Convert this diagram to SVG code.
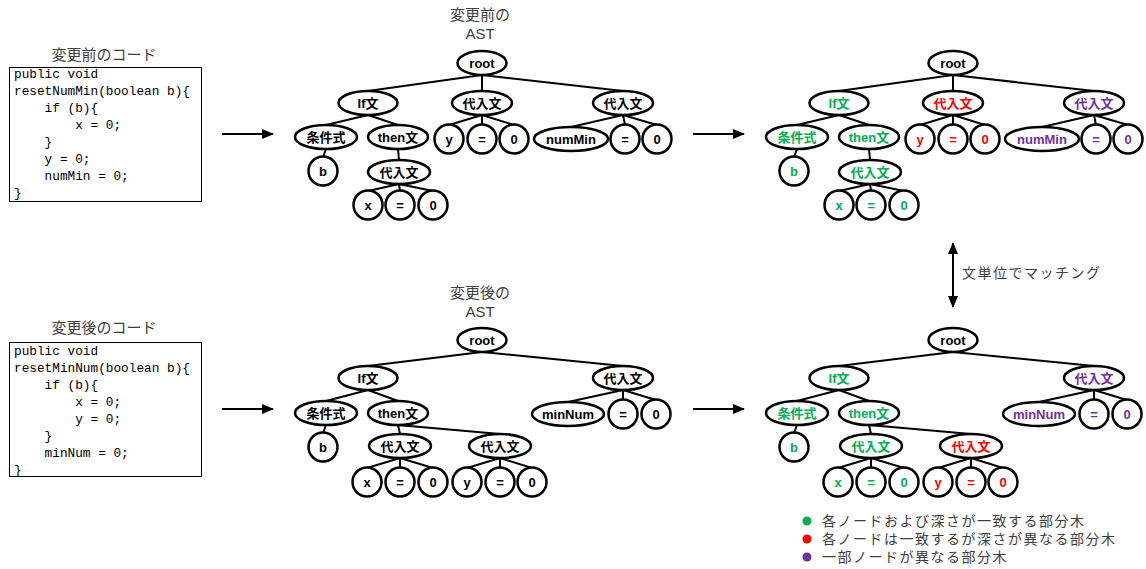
<svg xmlns="http://www.w3.org/2000/svg" width="1146" height="569" viewBox="0 0 1146 569">
<defs>
<marker id="ah" viewBox="0 0 12 10" refX="11" refY="5" markerWidth="12" markerHeight="10" markerUnits="userSpaceOnUse" orient="auto-start-reverse"><path d="M0,0 L12,5 L0,10 z" fill="#000"/></marker>
</defs>
<style>
.n ellipse{fill:#fff;stroke:#000;stroke-width:2.5}
.n text{font-family:"Liberation Sans","Noto Sans CJK JP",sans-serif;font-weight:bold;font-size:13px;text-anchor:middle;fill:#000}
.g text{fill:#00B050}
.r text{fill:#FF0000}
.p text{fill:#7030A0}
.e line{stroke:#000;stroke-width:2}
.ttl{font-family:"Liberation Sans","Noto Sans CJK JP",sans-serif;font-size:15px;fill:#404040;text-anchor:middle}
.code{font-family:"Liberation Mono",monospace;font-size:12.75px;fill:#000;white-space:pre}
.box{fill:#fff;stroke:#000;stroke-width:1}
.arr{stroke:#000;stroke-width:2.5;fill:none}
.lg{font-family:"Noto Sans CJK JP",sans-serif;font-size:14px;letter-spacing:1.5px;fill:#404040}
</style>
<rect width="1146" height="569" fill="#fff"/>

<!-- code boxes -->
<g id="code-before">
<text class="ttl" x="104" y="60">変更前のコード</text>
<rect class="box" x="9.5" y="67.5" width="192" height="134"/>
<text class="code" x="14" y="78">public void</text>
<text class="code" x="14" y="95">resetNumMin(boolean b){</text>
<text class="code" x="14" y="112">    if (b){</text>
<text class="code" x="14" y="129">        x = 0;</text>
<text class="code" x="14" y="146">    }</text>
<text class="code" x="14" y="163">    y = 0;</text>
<text class="code" x="14" y="180">    numMin = 0;</text>
<text class="code" x="14" y="197">}</text>
</g>
<g id="code-after">
<text class="ttl" x="104" y="333">変更後のコード</text>
<rect class="box" x="9.5" y="342.5" width="192" height="134"/>
<text class="code" x="14" y="355">public void</text>
<text class="code" x="14" y="372">resetMinNum(boolean b){</text>
<text class="code" x="14" y="389">    if (b){</text>
<text class="code" x="14" y="406">        x = 0;</text>
<text class="code" x="14" y="423">        y = 0;</text>
<text class="code" x="14" y="440">    }</text>
<text class="code" x="14" y="457">    minNum = 0;</text>
<text class="code" x="14" y="474">}</text>
</g>

<g id="titles">
<text class="ttl" x="480" y="20">変更前の</text>
<text class="ttl" x="480" y="39">AST</text>
<text class="ttl" x="480" y="298">変更後の</text>
<text class="ttl" x="480" y="317">AST</text>
</g>

<!-- connectors -->
<g id="connectors" class="e">
<!-- top-left -->
<line x1="482" y1="75" x2="368" y2="91"/><line x1="482" y1="75" x2="482" y2="91"/><line x1="482" y1="75" x2="623" y2="91"/>
<line x1="368" y1="115" x2="326" y2="125"/><line x1="368" y1="115" x2="398" y2="125"/>
<line x1="326" y1="149" x2="323" y2="157"/>
<line x1="398" y1="149" x2="399" y2="160"/>
<line x1="399" y1="184" x2="368" y2="191"/><line x1="399" y1="184" x2="400" y2="191"/><line x1="399" y1="184" x2="433" y2="191"/>
<line x1="482" y1="115" x2="449" y2="125"/><line x1="482" y1="115" x2="482" y2="125"/><line x1="482" y1="115" x2="514" y2="125"/>
<line x1="623" y1="115" x2="571" y2="127"/><line x1="623" y1="115" x2="625" y2="125"/><line x1="623" y1="115" x2="657" y2="125"/>
<!-- top-right -->
<line x1="953" y1="75" x2="839" y2="91"/><line x1="953" y1="75" x2="953" y2="91"/><line x1="953" y1="75" x2="1094" y2="91"/>
<line x1="839" y1="115" x2="797" y2="125"/><line x1="839" y1="115" x2="869" y2="125"/>
<line x1="797" y1="149" x2="794" y2="157"/>
<line x1="869" y1="149" x2="870" y2="160"/>
<line x1="870" y1="184" x2="839" y2="191"/><line x1="870" y1="184" x2="871" y2="191"/><line x1="870" y1="184" x2="904" y2="191"/>
<line x1="953" y1="115" x2="920" y2="125"/><line x1="953" y1="115" x2="953" y2="125"/><line x1="953" y1="115" x2="985" y2="125"/>
<line x1="1094" y1="115" x2="1042" y2="127"/><line x1="1094" y1="115" x2="1096" y2="125"/><line x1="1094" y1="115" x2="1128" y2="125"/>
<!-- bottom-left -->
<line x1="482" y1="352" x2="368" y2="366"/><line x1="482" y1="352" x2="623" y2="366"/>
<line x1="368" y1="390" x2="326" y2="401"/><line x1="368" y1="390" x2="398" y2="401"/>
<line x1="326" y1="425" x2="323" y2="433"/>
<line x1="398" y1="425" x2="400" y2="434"/><line x1="398" y1="425" x2="500" y2="434"/>
<line x1="400" y1="458" x2="367" y2="468"/><line x1="400" y1="458" x2="400" y2="468"/><line x1="400" y1="458" x2="433" y2="468"/>
<line x1="500" y1="458" x2="467" y2="468"/><line x1="500" y1="458" x2="500" y2="468"/><line x1="500" y1="458" x2="532" y2="468"/>
<line x1="623" y1="390" x2="568" y2="402"/><line x1="623" y1="390" x2="623" y2="400"/><line x1="623" y1="390" x2="656" y2="400"/>
<!-- bottom-right -->
<line x1="953" y1="352" x2="839" y2="366"/><line x1="953" y1="352" x2="1094" y2="366"/>
<line x1="839" y1="390" x2="797" y2="401"/><line x1="839" y1="390" x2="869" y2="401"/>
<line x1="797" y1="425" x2="794" y2="433"/>
<line x1="869" y1="425" x2="871" y2="434"/><line x1="869" y1="425" x2="971" y2="434"/>
<line x1="871" y1="458" x2="838" y2="468"/><line x1="871" y1="458" x2="871" y2="468"/><line x1="871" y1="458" x2="904" y2="468"/>
<line x1="971" y1="458" x2="938" y2="468"/><line x1="971" y1="458" x2="971" y2="468"/><line x1="971" y1="458" x2="1003" y2="468"/>
<line x1="1094" y1="390" x2="1039" y2="402"/><line x1="1094" y1="390" x2="1094" y2="400"/><line x1="1094" y1="390" x2="1127" y2="400"/>
<!-- arrows -->
<line class="arr" x1="222" y1="134" x2="273" y2="134" marker-end="url(#ah)"/>
<line class="arr" x1="222" y1="409" x2="273" y2="409" marker-end="url(#ah)"/>
<line class="arr" x1="693" y1="134" x2="744" y2="134" marker-end="url(#ah)"/>
<line class="arr" x1="693" y1="409" x2="744" y2="409" marker-end="url(#ah)"/>
<line class="arr" x1="953" y1="243" x2="953" y2="307" marker-start="url(#ah)" marker-end="url(#ah)"/>
</g>
<text class="lg" x="962" y="278">文単位でマッチング</text>

<!-- top-left tree -->
<g id="tl-root" class="n"><ellipse cx="482" cy="63" rx="24.5" ry="12"/><text x="482" y="67.5">root</text></g>
<g id="tl-if" class="n"><ellipse cx="368" cy="103" rx="29.5" ry="12"/><text x="368" y="107.5">If文</text></g>
<g id="tl-asA" class="n"><ellipse cx="482" cy="103" rx="30" ry="12"/><text x="482" y="107.5">代入文</text></g>
<g id="tl-asB" class="n"><ellipse cx="623" cy="103" rx="30" ry="12"/><text x="623" y="107.5">代入文</text></g>
<g id="tl-cond" class="n"><ellipse cx="326" cy="137" rx="31" ry="12"/><text x="326" y="141.5">条件式</text></g>
<g id="tl-then" class="n"><ellipse cx="398" cy="137" rx="30" ry="12"/><text x="398" y="141.5">then文</text></g>
<g id="tl-b" class="n"><ellipse cx="323" cy="171" rx="14.5" ry="14.5"/><text x="323" y="175.5">b</text></g>
<g id="tl-asC" class="n"><ellipse cx="399" cy="172" rx="31" ry="12"/><text x="399" y="176.5">代入文</text></g>
<g id="tl-x" class="n"><ellipse cx="368" cy="205" rx="14.5" ry="14.5"/><text x="368" y="209.5">x</text></g>
<g id="tl-xeq" class="n"><ellipse cx="400" cy="205" rx="14.5" ry="14.5"/><text x="400" y="209.5">=</text></g>
<g id="tl-x0" class="n"><ellipse cx="433" cy="205" rx="14.5" ry="14.5"/><text x="433" y="209.5">0</text></g>
<g id="tl-y" class="n"><ellipse cx="449" cy="139" rx="14.5" ry="14.5"/><text x="449" y="143.5">y</text></g>
<g id="tl-yeq" class="n"><ellipse cx="482" cy="139" rx="14.5" ry="14.5"/><text x="482" y="143.5">=</text></g>
<g id="tl-y0" class="n"><ellipse cx="514" cy="139" rx="14.5" ry="14.5"/><text x="514" y="143.5">0</text></g>
<g id="tl-numMin" class="n"><ellipse cx="571" cy="139" rx="37" ry="12"/><text x="571" y="143.5">numMin</text></g>
<g id="tl-neq" class="n"><ellipse cx="625" cy="139" rx="14.5" ry="14.5"/><text x="625" y="143.5">=</text></g>
<g id="tl-n0" class="n"><ellipse cx="657" cy="139" rx="14.5" ry="14.5"/><text x="657" y="143.5">0</text></g>

<!-- top-right tree -->
<g id="tr-root" class="n"><ellipse cx="953" cy="63" rx="24.5" ry="12"/><text x="953" y="67.5">root</text></g>
<g id="tr-if" class="n g"><ellipse cx="839" cy="103" rx="29.5" ry="12"/><text x="839" y="107.5">If文</text></g>
<g id="tr-asA" class="n r"><ellipse cx="953" cy="103" rx="30" ry="12"/><text x="953" y="107.5">代入文</text></g>
<g id="tr-asB" class="n p"><ellipse cx="1094" cy="103" rx="30" ry="12"/><text x="1094" y="107.5">代入文</text></g>
<g id="tr-cond" class="n g"><ellipse cx="797" cy="137" rx="31" ry="12"/><text x="797" y="141.5">条件式</text></g>
<g id="tr-then" class="n g"><ellipse cx="869" cy="137" rx="30" ry="12"/><text x="869" y="141.5">then文</text></g>
<g id="tr-b" class="n g"><ellipse cx="794" cy="171" rx="14.5" ry="14.5"/><text x="794" y="175.5">b</text></g>
<g id="tr-asC" class="n g"><ellipse cx="870" cy="172" rx="31" ry="12"/><text x="870" y="176.5">代入文</text></g>
<g id="tr-x" class="n g"><ellipse cx="839" cy="205" rx="14.5" ry="14.5"/><text x="839" y="209.5">x</text></g>
<g id="tr-xeq" class="n g"><ellipse cx="871" cy="205" rx="14.5" ry="14.5"/><text x="871" y="209.5">=</text></g>
<g id="tr-x0" class="n g"><ellipse cx="904" cy="205" rx="14.5" ry="14.5"/><text x="904" y="209.5">0</text></g>
<g id="tr-y" class="n r"><ellipse cx="920" cy="139" rx="14.5" ry="14.5"/><text x="920" y="143.5">y</text></g>
<g id="tr-yeq" class="n r"><ellipse cx="953" cy="139" rx="14.5" ry="14.5"/><text x="953" y="143.5">=</text></g>
<g id="tr-y0" class="n r"><ellipse cx="985" cy="139" rx="14.5" ry="14.5"/><text x="985" y="143.5">0</text></g>
<g id="tr-numMin" class="n p"><ellipse cx="1042" cy="139" rx="37" ry="12"/><text x="1042" y="143.5">numMin</text></g>
<g id="tr-neq" class="n p"><ellipse cx="1096" cy="139" rx="14.5" ry="14.5"/><text x="1096" y="143.5">=</text></g>
<g id="tr-n0" class="n p"><ellipse cx="1128" cy="139" rx="14.5" ry="14.5"/><text x="1128" y="143.5">0</text></g>

<!-- bottom-left tree -->
<g id="bl-root" class="n"><ellipse cx="482" cy="340" rx="24.5" ry="12"/><text x="482" y="344.5">root</text></g>
<g id="bl-if" class="n"><ellipse cx="368" cy="378" rx="29.5" ry="12"/><text x="368" y="382.5">If文</text></g>
<g id="bl-asR" class="n"><ellipse cx="623" cy="378" rx="30" ry="12"/><text x="623" y="382.5">代入文</text></g>
<g id="bl-cond" class="n"><ellipse cx="326" cy="413" rx="31" ry="12"/><text x="326" y="417.5">条件式</text></g>
<g id="bl-then" class="n"><ellipse cx="398" cy="413" rx="30" ry="12"/><text x="398" y="417.5">then文</text></g>
<g id="bl-minNum" class="n"><ellipse cx="568" cy="414" rx="36" ry="12"/><text x="568" y="418.5">minNum</text></g>
<g id="bl-meq" class="n"><ellipse cx="623" cy="414" rx="14.5" ry="14.5"/><text x="623" y="418.5">=</text></g>
<g id="bl-m0" class="n"><ellipse cx="656" cy="414" rx="14.5" ry="14.5"/><text x="656" y="418.5">0</text></g>
<g id="bl-b" class="n"><ellipse cx="323" cy="447" rx="14.5" ry="14.5"/><text x="323" y="451.5">b</text></g>
<g id="bl-asX" class="n"><ellipse cx="400" cy="446" rx="31" ry="12"/><text x="400" y="450.5">代入文</text></g>
<g id="bl-asY" class="n"><ellipse cx="500" cy="446" rx="31" ry="12"/><text x="500" y="450.5">代入文</text></g>
<g id="bl-x" class="n"><ellipse cx="367" cy="482" rx="14.5" ry="14.5"/><text x="367" y="486.5">x</text></g>
<g id="bl-xeq" class="n"><ellipse cx="400" cy="482" rx="14.5" ry="14.5"/><text x="400" y="486.5">=</text></g>
<g id="bl-x0" class="n"><ellipse cx="433" cy="482" rx="14.5" ry="14.5"/><text x="433" y="486.5">0</text></g>
<g id="bl-y" class="n"><ellipse cx="467" cy="482" rx="14.5" ry="14.5"/><text x="467" y="486.5">y</text></g>
<g id="bl-yeq" class="n"><ellipse cx="500" cy="482" rx="14.5" ry="14.5"/><text x="500" y="486.5">=</text></g>
<g id="bl-y0" class="n"><ellipse cx="532" cy="482" rx="14.5" ry="14.5"/><text x="532" y="486.5">0</text></g>

<!-- bottom-right tree -->
<g id="br-root" class="n"><ellipse cx="953" cy="340" rx="24.5" ry="12"/><text x="953" y="344.5">root</text></g>
<g id="br-if" class="n g"><ellipse cx="839" cy="378" rx="29.5" ry="12"/><text x="839" y="382.5">If文</text></g>
<g id="br-asR" class="n p"><ellipse cx="1094" cy="378" rx="30" ry="12"/><text x="1094" y="382.5">代入文</text></g>
<g id="br-cond" class="n g"><ellipse cx="797" cy="413" rx="31" ry="12"/><text x="797" y="417.5">条件式</text></g>
<g id="br-then" class="n g"><ellipse cx="869" cy="413" rx="30" ry="12"/><text x="869" y="417.5">then文</text></g>
<g id="br-minNum" class="n p"><ellipse cx="1039" cy="414" rx="36" ry="12"/><text x="1039" y="418.5">minNum</text></g>
<g id="br-meq" class="n p"><ellipse cx="1094" cy="414" rx="14.5" ry="14.5"/><text x="1094" y="418.5">=</text></g>
<g id="br-m0" class="n p"><ellipse cx="1127" cy="414" rx="14.5" ry="14.5"/><text x="1127" y="418.5">0</text></g>
<g id="br-b" class="n g"><ellipse cx="794" cy="447" rx="14.5" ry="14.5"/><text x="794" y="451.5">b</text></g>
<g id="br-asX" class="n g"><ellipse cx="871" cy="446" rx="31" ry="12"/><text x="871" y="450.5">代入文</text></g>
<g id="br-asY" class="n r"><ellipse cx="971" cy="446" rx="31" ry="12"/><text x="971" y="450.5">代入文</text></g>
<g id="br-x" class="n g"><ellipse cx="838" cy="482" rx="14.5" ry="14.5"/><text x="838" y="486.5">x</text></g>
<g id="br-xeq" class="n g"><ellipse cx="871" cy="482" rx="14.5" ry="14.5"/><text x="871" y="486.5">=</text></g>
<g id="br-x0" class="n g"><ellipse cx="904" cy="482" rx="14.5" ry="14.5"/><text x="904" y="486.5">0</text></g>
<g id="br-y" class="n r"><ellipse cx="938" cy="482" rx="14.5" ry="14.5"/><text x="938" y="486.5">y</text></g>
<g id="br-yeq" class="n r"><ellipse cx="971" cy="482" rx="14.5" ry="14.5"/><text x="971" y="486.5">=</text></g>
<g id="br-y0" class="n r"><ellipse cx="1003" cy="482" rx="14.5" ry="14.5"/><text x="1003" y="486.5">0</text></g>

<!-- legend -->
<g id="legend">
<circle cx="807" cy="521" r="4.5" fill="#00B050"/>
<text class="lg" x="822" y="526">各ノードおよび深さが一致する部分木</text>
<circle cx="807" cy="539" r="4.5" fill="#FF0000"/>
<text class="lg" x="822" y="544">各ノードは一致するが深さが異なる部分木</text>
<circle cx="807" cy="557" r="4.5" fill="#7030A0"/>
<text class="lg" x="822" y="562">一部ノードが異なる部分木</text>
</g>
</svg>
